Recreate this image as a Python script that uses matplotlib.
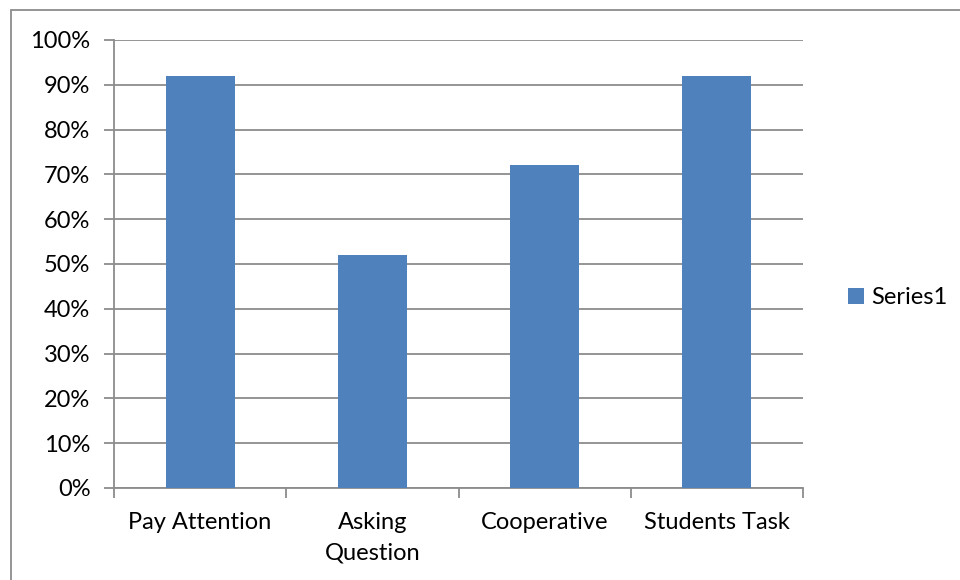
import matplotlib
matplotlib.use("Agg")
import matplotlib.pyplot as plt
from matplotlib.patches import Rectangle, Patch
from matplotlib.ticker import FixedLocator, PercentFormatter
import numpy as np

plt.rcParams["font.family"] = ["Lato", "DejaVu Sans"]

# data
categories = ["Pay Attention", "Asking\nQuestion", "Cooperative", "Students Task"]
values = [0.92, 0.52, 0.72, 0.92]
series_name = "Series1"

BAR_COLOR = "#4F81BD"
GRID_COLOR = "#8C8C8C"
FS = 17

fig = plt.figure(figsize=(9.6, 5.8), dpi=100)
ax = fig.add_axes([114 / 960, 1 - 488 / 580, (803 - 114) / 960, (488 - 40) / 580])

# outer chart frame, open to the right and bottom
fig.patches.append(Rectangle((11 / 960, -0.1), 1.2, 1 - 10 / 580 + 0.1,
                             transform=fig.transFigure, fill=False,
                             edgecolor=GRID_COLOR, linewidth=1.3))

x = np.arange(len(categories))
ax.bar(x, values, width=0.4, color=BAR_COLOR, zorder=3, label=series_name)

ax.set_xlim(-0.5, len(categories) - 0.5)
ax.set_ylim(0, 1)
ax.set_yticks(np.arange(0, 1.01, 0.1))
ax.yaxis.set_major_formatter(PercentFormatter(1.0, decimals=0))
ax.grid(axis="y", color=GRID_COLOR, linewidth=1.3, zorder=0)

ax.set_xticks(x)
ax.set_xticklabels(categories, linespacing=1.6)
ax.xaxis.set_minor_locator(FixedLocator(np.arange(-0.5, len(categories), 1.0)))
ax.tick_params(axis="x", which="major", length=0, pad=17, labelsize=FS)
ax.tick_params(axis="x", which="minor", length=7, width=1.3, color=GRID_COLOR)
ax.tick_params(axis="y", length=7, width=1.3, color=GRID_COLOR, pad=10, labelsize=FS)

for side in ("top", "right"):
    ax.spines[side].set_visible(False)
for side in ("left", "bottom"):
    ax.spines[side].set_color(GRID_COLOR)
    ax.spines[side].set_linewidth(1.3)

ax.legend(handles=[Patch(facecolor=BAR_COLOR, label=series_name)],
          loc="center left", bbox_to_anchor=(1.035, 0.425), frameon=False,
          fontsize=FS, handlelength=0.65, handleheight=0.65, handletextpad=0.3)

fig.savefig("out.png", dpi=100)
